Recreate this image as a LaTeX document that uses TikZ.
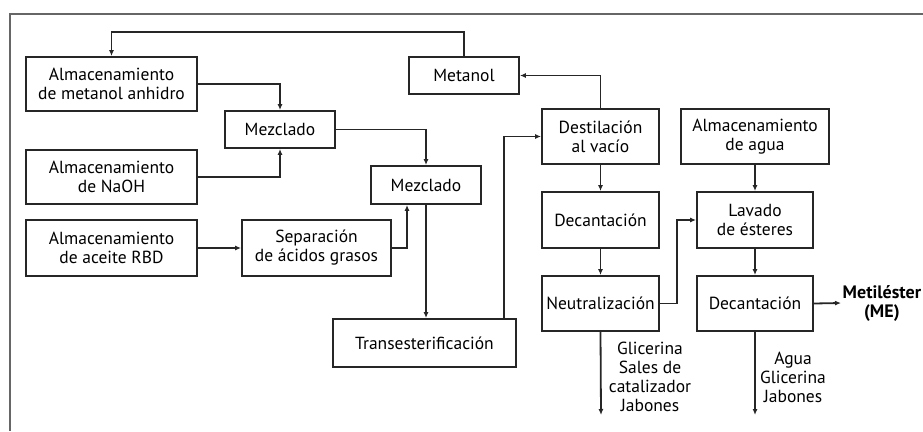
\documentclass[tikz,border=0pt]{standalone}
\usepackage{fontspec}
\setmainfont{PT Sans}
\usetikzlibrary{arrows.meta}
\begin{document}
\begin{tikzpicture}[x=1pt,y=-1pt,
  box/.style={draw=black!85, line width=1.9pt, inner sep=0pt, align=center,
    font=\fontsize{17.5}{19}\selectfont},
  arr/.style={draw=black!85, line width=1.8pt, -{Latex[length=6pt,width=5pt]}},
  lbl/.style={align=center, inner sep=0pt, font=\fontsize{17.5}{19}\selectfont}]
\useasboundingbox (0,0) rectangle (923,431);
\draw[black!60, line width=2pt] (923,14) -- (10,14) -- (10,431);
% boxes
\node[box, minimum width=171pt, minimum height=54pt] (alm1) at (111.5,84) {Almacenamiento\\de metanol anhidro};
\node[box, minimum width=110pt, minimum height=37pt] (mez1) at (280,129.5) {Mezclado};
\node[box, minimum width=171pt, minimum height=54pt] (naoh) at (111.5,177) {Almacenamiento\\de NaOH};
\node[box, minimum width=110pt, minimum height=37pt] (met) at (464,75.5) {Metanol};
\node[box, minimum width=110pt, minimum height=38pt] (mez2) at (426,185) {Mezclado};
\node[box, minimum width=171pt, minimum height=56pt] (rbd) at (111.5,248) {Almacenamiento\\de aceite RBD};
\node[box, minimum width=149pt, minimum height=56pt] (sep) at (316.5,248) {Separación\\de ácidos grasos};
\node[box, minimum width=183pt, minimum height=48pt] (trans) at (424.5,343) {Transesterificación};
\node[box, minimum width=117pt, minimum height=55pt] (dest) at (600.5,136.5) {Destilación\\al vacío};
\node[box, minimum width=148pt, minimum height=55pt] (agua) at (755,136.5) {Almacenamiento\\de agua};
\node[box, minimum width=117pt, minimum height=56pt] (dec1) at (600.5,220) {Decantación};
\node[box, minimum width=116pt, minimum height=56pt] (lav) at (755,220) {Lavado\\de ésteres};
\node[box, minimum width=117pt, minimum height=55pt] (neu) at (600.5,303.5) {Neutralización};
\node[box, minimum width=116pt, minimum height=55pt] (dec2) at (755,303.5) {Decantación};
\node[lbl, anchor=west, font=\fontsize{18}{19}\selectfont\bfseries, inner sep=1.5pt] (me) at (841,303) {Metiléster\\(ME)};
\coordinate (out1) at (601,415);
\coordinate (out2) at (755,415);
\node[lbl] (l1) at (650,376.5) {Glicerina\\Sales de\\catalizador\\Jabones};
\node[lbl] (l2) at (793,377) {Agua\\Glicerina\\Jabones};
% connectors
\draw[arr] (met.north) -- (met.north |- 0,32) -| (alm1.north);
\draw[arr] (alm1.east) -| (mez1.north);
\draw[arr] (naoh.east) -| (mez1.south);
\draw[arr] (mez1.east) -| (mez2.north);
\draw[arr] (rbd.east) -- (sep.west);
\draw[arr] (sep.east) -| ([xshift=-19pt]mez2.south);
\draw[arr] (mez2.south) -- (mez2.south |- trans.north);
\draw[arr] ([xshift=-13pt]trans.north east) |- (dest.west);
\draw[arr] (dest.north) |- (met.east);
\draw[arr] (dest.south) -- (dec1.north);
\draw[arr] (dec1.south) -- (neu.north);
\draw[arr] (agua.south) -- (lav.north);
\draw[arr] (neu.east) -- ++(17,0) |- (lav.west);
\draw[arr] (lav.south) -- (dec2.north);
\draw[arr] (dec2.east) -- (me.west);
\draw[arr] (neu.south) -- (out1);
\draw[arr] (dec2.south) -- (out2);
\end{tikzpicture}
\end{document}
